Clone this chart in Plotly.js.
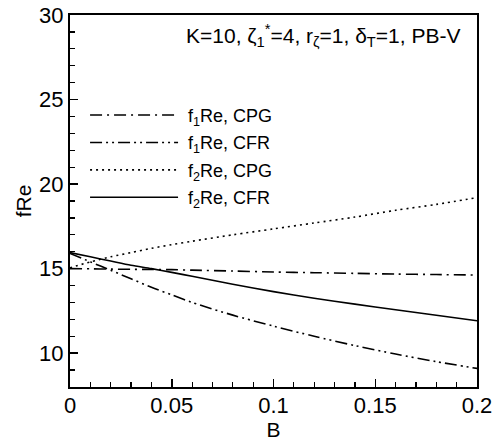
<!DOCTYPE html>
<html>
<head>
<meta charset="utf-8">
<script src="https://cdn.plot.ly/plotly-3.0.1.min.js"></script>
<style>html,body{margin:0;padding:0;background:#fff;}#chart{width:494px;height:442px;}</style>
</head>
<body>
<div id="chart"></div>
<script>
var B = [0, 0.01, 0.02, 0.03, 0.04, 0.05, 0.06, 0.08, 0.10, 0.12, 0.14, 0.16, 0.18, 0.20];
var f1CPG = [15.0, 14.99, 14.97, 14.96, 14.95, 14.94, 14.91, 14.86, 14.80, 14.76, 14.72, 14.68, 14.65, 14.62];
var f1CFR = [15.9, 15.4, 14.9, 14.4, 13.9, 13.45, 13.0, 12.25, 11.6, 11.0, 10.45, 9.95, 9.5, 9.1];
var f2CPG = [15.05, 15.4, 15.7, 15.95, 16.2, 16.42, 16.62, 17.0, 17.35, 17.7, 18.05, 18.45, 18.8, 19.2];
var f2CFR = [15.95, 15.7, 15.45, 15.2, 15.0, 14.78, 14.55, 14.08, 13.64, 13.25, 12.9, 12.57, 12.24, 11.92];
var seriesNames = ["\u00a0f<sub>1</sub>Re, CPG", "\u00a0f<sub>1</sub>Re, CFR", "\u00a0f<sub>2</sub>Re, CPG", "\u00a0f<sub>2</sub>Re, CFR"];
var label = "K=10, ζ<sub>1</sub><sup>*</sup>=4, r<sub>ζ</sub>=1, δ<sub>T</sub>=1, PB-V";

var dashes = ["12px,5px,2px,5px", "12px,4px,2px,4px,2px,4px", "2px,4px", "solid"];
var ys = [f1CPG, f1CFR, f2CPG, f2CFR];
var traces = ys.map(function (y, i) {
  return {
    x: B, y: y, type: "scatter", mode: "lines", name: seriesNames[i],
    legendgroup: "g" + i,
    line: {color: "#000", width: 1.6, dash: dashes[i], shape: "spline", smoothing: 0.8}
  };
});

var font = "Liberation Sans, Arial, Helvetica, sans-serif";
var layout = {
  width: 494, height: 442,
  margin: {l: 70, r: 17, t: 15, b: 55},
  paper_bgcolor: "#fff", plot_bgcolor: "#fff",
  font: {family: font, size: 20, color: "#000"},
  showlegend: true,
  legend: {
    x: 0.037, y: 0.78, xanchor: "left", yanchor: "top",
    bgcolor: "rgba(0,0,0,0)", borderwidth: 0,
    font: {family: font, size: 18, color: "#000"},
    itemwidth: 88, tracegroupgap: 1
  },
  xaxis: {
    range: [0, 0.2], tickvals: [0, 0.05, 0.1, 0.15, 0.2], ticktext: ["0", "0.05", "0.1", "0.15", "0.2"],
    ticks: "inside", ticklen: 8, tickwidth: 1.5, tickcolor: "#000",
    minor: {dtick: 0.01, ticks: "inside", ticklen: 5, tickwidth: 1.2, tickcolor: "#000"},
    showline: true, linewidth: 2, linecolor: "#000", mirror: true,
    showgrid: false, zeroline: false,
    tickfont: {family: font, size: 22},
    ticklabelstandoff: -2,
    title: {text: "B", font: {family: font, size: 21}, standoff: 2}
  },
  yaxis: {
    range: [8, 30], tickvals: [10, 15, 20, 25, 30],
    ticks: "inside", ticklen: 8, tickwidth: 1.5, tickcolor: "#000",
    minor: {dtick: 1, ticks: "inside", ticklen: 5, tickwidth: 1.2, tickcolor: "#000"},
    showline: true, linewidth: 2, linecolor: "#000", mirror: true,
    showgrid: false, zeroline: false,
    tickfont: {family: font, size: 22},
    title: {text: "fRe", font: {family: font, size: 21}, standoff: 2}
  },
  annotations: [{
    text: label, xref: "paper", yref: "paper", x: 0.963, y: 0.945,
    xanchor: "right", yanchor: "middle", showarrow: false,
    font: {family: font, size: 21, color: "#000"}
  }]
};

Plotly.newPlot("chart", traces, layout, {staticPlot: true});
</script>
</body>
</html>
